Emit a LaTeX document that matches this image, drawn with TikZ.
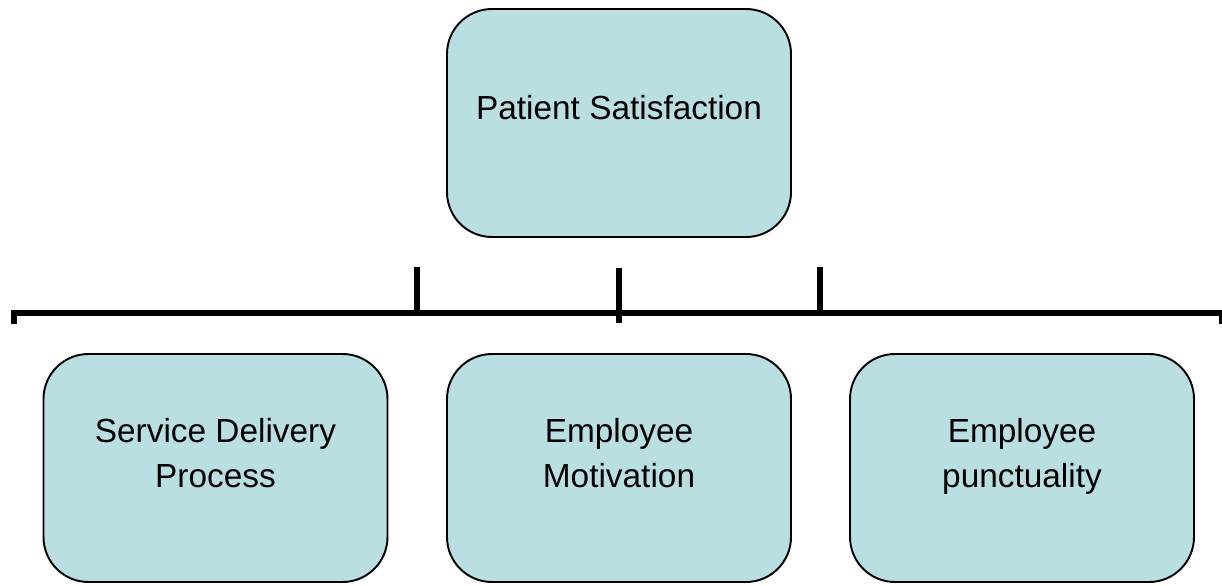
\documentclass[tikz,border=0pt]{standalone}
\usepackage{fontspec}
\setmainfont{Liberation Sans}
\usepackage{xcolor}
\definecolor{boxfill}{RGB}{186,223,226}

\begin{document}
\begin{tikzpicture}[
  box/.style={draw, fill=boxfill, line width=1.1pt, rounded corners=0.9cm,
    minimum width=6.88cm, minimum height=4.56cm},
  lbl/.style={align=center, text depth=0pt, font=\fontsize{19}{26}\selectfont},
  bar/.style={line width=3pt}]
\useasboundingbox (0,0) rectangle (24.44,-11.72);
\node[box] (ps) at (12.38,-2.46) {};
\node[box] (sdp) at (4.31,-9.36) {};
\node[box] (em) at (12.38,-9.36) {};
\node[box] (ep) at (20.44,-9.36) {};
\node[lbl] (pstext) at ([yshift=0.32cm]ps.center) {Patient Satisfaction};
\node[lbl] (sdptext) at ([yshift=0.3cm]sdp.center) {Service Delivery\\Process};
\node[lbl] (emtext) at ([yshift=0.3cm]em.center) {Employee\\Motivation};
\node[lbl] (eptext) at ([yshift=0.3cm]ep.center) {Employee\\punctuality};
% the bar under the top box
\coordinate (lend) at (0.28,-6.48);
\coordinate (lcorner) at (0.28,-6.26);
\coordinate (rcorner) at (24.43,-6.26);
\coordinate (rend) at (24.43,-6.48);
\draw[bar] (lend) -- (lcorner) -- (rcorner) -- (rend);
\coordinate (ltop) at (8.34,-5.34);
\coordinate (lfoot) at (8.34,-6.26);
\coordinate (rtop) at (16.40,-5.34);
\coordinate (rfoot) at (16.40,-6.26);
\draw[bar] (ltop) -- (lfoot);
\draw[bar] (rtop) -- (rfoot);
\draw[bar] ([yshift=-0.6cm]ps.south) -- ([yshift=0.6cm]em.north);
\end{tikzpicture}
\end{document}
